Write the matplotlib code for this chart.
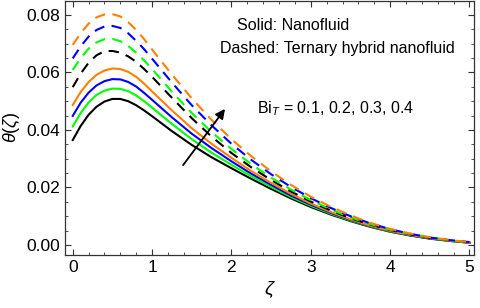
import matplotlib
matplotlib.use("Agg")
import matplotlib.pyplot as plt
from matplotlib.ticker import MultipleLocator, FormatStrFormatter

plt.rcParams['font.family'] = ['Liberation Sans', 'DejaVu Sans']
plt.rcParams['mathtext.fontset'] = 'custom'
plt.rcParams['mathtext.it'] = 'Liberation Sans:italic'
plt.rcParams['mathtext.rm'] = 'Liberation Sans'

zeta = [0, 0.1, 0.2, 0.3, 0.4, 0.5, 0.6, 0.7, 0.8, 0.9, 1.0,
        1.25, 1.5, 1.75, 2.0, 2.25, 2.5, 2.75, 3.0, 3.25, 3.5, 3.75,
        4.0, 4.25, 4.5, 4.75, 5.0]

# solid: nanofluid, Bi_T = 0.1 .. 0.4
nf_01 = [0.0365, 0.0414, 0.0453, 0.0481, 0.0499, 0.0508, 0.0508, 0.0500, 0.0486, 0.0468, 0.0448,
         0.0396, 0.0348, 0.0305, 0.0267, 0.0230, 0.0195, 0.0162, 0.0132, 0.0106, 0.0083, 0.0063,
         0.0046, 0.0033, 0.0022, 0.0014, 0.0008]
nf_02 = [0.0412, 0.0459, 0.0496, 0.0522, 0.0537, 0.0544, 0.0543, 0.0535, 0.0520, 0.0500, 0.0478,
         0.0421, 0.0368, 0.0321, 0.0279, 0.0239, 0.0202, 0.0167, 0.0136, 0.0109, 0.0085, 0.0065,
         0.0047, 0.0034, 0.0023, 0.0014, 0.0008]
nf_03 = [0.0449, 0.0495, 0.0530, 0.0555, 0.0570, 0.0577, 0.0576, 0.0567, 0.0551, 0.0529, 0.0505,
         0.0444, 0.0387, 0.0337, 0.0291, 0.0248, 0.0209, 0.0172, 0.0140, 0.0112, 0.0087, 0.0066,
         0.0048, 0.0034, 0.0023, 0.0015, 0.0008]
nf_04 = [0.0487, 0.0532, 0.0567, 0.0592, 0.0607, 0.0614, 0.0612, 0.0602, 0.0585, 0.0561, 0.0534,
         0.0468, 0.0406, 0.0352, 0.0303, 0.0257, 0.0216, 0.0178, 0.0144, 0.0115, 0.0089, 0.0067,
         0.0049, 0.0035, 0.0024, 0.0015, 0.0008]

# dashed: ternary hybrid nanofluid
th_01 = [0.0549, 0.0596, 0.0634, 0.0660, 0.0674, 0.0675, 0.0669, 0.0656, 0.0637, 0.0612, 0.0585,
         0.0512, 0.0441, 0.0377, 0.0320, 0.0270, 0.0226, 0.0186, 0.0151, 0.0120, 0.0093, 0.0071,
         0.0052, 0.0037, 0.0025, 0.0016, 0.0009]
th_02 = [0.0609, 0.0650, 0.0683, 0.0705, 0.0716, 0.0717, 0.0709, 0.0692, 0.0669, 0.0642, 0.0612,
         0.0533, 0.0459, 0.0393, 0.0334, 0.0281, 0.0234, 0.0193, 0.0156, 0.0124, 0.0096, 0.0073,
         0.0053, 0.0038, 0.0026, 0.0016, 0.0009]
th_03 = [0.0649, 0.0691, 0.0725, 0.0748, 0.0760, 0.0762, 0.0755, 0.0736, 0.0710, 0.0681, 0.0648,
         0.0565, 0.0486, 0.0416, 0.0352, 0.0296, 0.0246, 0.0202, 0.0163, 0.0129, 0.0100, 0.0075,
         0.0055, 0.0039, 0.0026, 0.0017, 0.0010]
th_04 = [0.0696, 0.0737, 0.0770, 0.0792, 0.0802, 0.0803, 0.0795, 0.0775, 0.0748, 0.0716, 0.0680,
         0.0593, 0.0510, 0.0435, 0.0368, 0.0309, 0.0256, 0.0209, 0.0168, 0.0133, 0.0103, 0.0077,
         0.0056, 0.0040, 0.0027, 0.0017, 0.0010]

colors = ["black", "#00ff00", "#0000ff", "#ff8000"]

fig = plt.figure(figsize=(4.8, 3.08), dpi=100)
ax = fig.add_axes([0.135, 0.172, 0.853, 0.825])

for ys, c in zip([nf_01, nf_02, nf_03, nf_04], colors):
    ax.plot(zeta, ys, color=c, lw=1.5)
for ys, c in zip([th_01, th_02, th_03, th_04], colors):
    ax.plot(zeta, ys, color=c, lw=1.5, dashes=(5, 3.5))

ax.set_xlim(-0.1, 5.06)
ax.set_ylim(-0.0035, 0.0849)
ax.xaxis.set_major_locator(MultipleLocator(1))
ax.xaxis.set_minor_locator(MultipleLocator(0.2))
ax.yaxis.set_major_locator(MultipleLocator(0.02))
ax.yaxis.set_minor_locator(MultipleLocator(0.005))
ax.yaxis.set_major_formatter(FormatStrFormatter('%.2f'))
ax.tick_params(which='both', direction='in', top=True, right=True,
               labelsize=12.5, color='#333333')
ax.tick_params(which='major', length=4.5, width=0.8)
ax.tick_params(which='minor', length=2.5, width=0.6)
for s in ax.spines.values():
    s.set_color('#333333')
    s.set_linewidth(0.9)

ax.set_xlabel(r'$\zeta$', fontsize=14, labelpad=3)
ax.set_ylabel(r'$\theta(\zeta)$', fontsize=13, labelpad=3)

ax.text(2.78, 0.0765, "Solid: Nanofluid", ha='center', va='center', fontsize=11.5)
ax.text(3.34, 0.0685, "Dashed: Ternary hybrid nanofluid", ha='center', va='center', fontsize=11.5)
ax.text(3.31, 0.0473, r"Bi$_T$ = 0.1, 0.2, 0.3, 0.4", ha='center', va='center', fontsize=11.5)
ax.annotate("", xy=(1.94, 0.0481), xytext=(1.37, 0.0270),
            arrowprops=dict(arrowstyle='-|>', color='black', lw=1.3, mutation_scale=14))

fig.savefig("out.png", dpi=100)
